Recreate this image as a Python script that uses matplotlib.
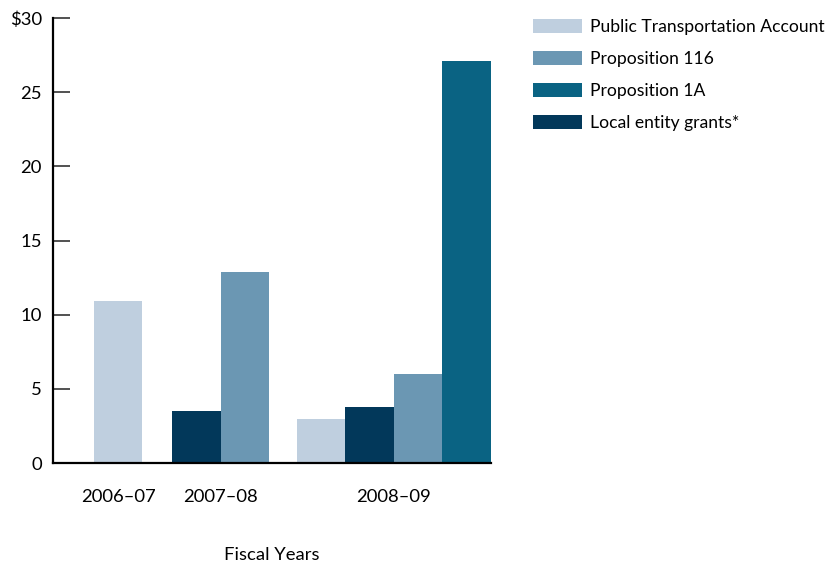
import numpy as np
import matplotlib.pyplot as plt
from matplotlib.patches import Patch

plt.rcParams['font.family'] = ['Lato', 'DejaVu Sans']

# funding by fiscal year (billions of dollars)
years = ['2006\u201307', '2007\u201308', '2008\u201309']
pta = [10.9, 0, 3.0]
local_grants = [0, 3.5, 3.8]
prop116 = [0, 12.9, 6.0]
prop1a = [0, 0, 27.1]

series = [
    ('Public Transportation Account', pta, '#bfcfdf'),
    ('Local entity grants*', local_grants, '#02385a'),
    ('Proposition 116', prop116, '#6b97b3'),
    ('Proposition 1A', prop1a, '#0a6383'),
]
legend_order = [0, 2, 3, 1]

# group centres along the x axis, in bar widths
centres = [1.345, 3.46, 7.03]

fig = plt.figure(figsize=(8.29, 5.63), dpi=100)
ax = fig.add_axes([53 / 829, 100 / 563, 438 / 829, 445 / 563])

for g, c in enumerate(centres):
    present = [s for s in series if s[1][g] > 0]
    left = c - len(present) / 2
    for i, (name, vals, col) in enumerate(present):
        ax.bar(left + i, vals[g], width=1.0, align='edge', color=col,
               linewidth=0, zorder=1)

fs = 13.3
ax.set_xlim(0, 9.03)
ax.set_ylim(0, 30)
ax.set_yticks(np.arange(0, 31, 5))
ax.set_yticklabels(['0', '5', '10', '15', '20', '25', '$30'])
ax.set_xticks(centres)
ax.set_xticklabels(years)
ax.tick_params(axis='y', direction='in', length=12, width=1.2,
               color='#333333', pad=8, labelsize=fs)
ax.tick_params(axis='x', length=0, pad=19, labelsize=fs)
for side in ('top', 'right'):
    ax.spines[side].set_visible(False)
for side in ('left', 'bottom'):
    ax.spines[side].set_linewidth(1.6)
    ax.spines[side].set_color('black')
ax.set_xlabel('Fiscal Years', fontsize=fs, labelpad=30)

handles = [Patch(facecolor=series[i][2], linewidth=0) for i in legend_order]
labels = [series[i][0] for i in legend_order]
fig.legend(handles, labels, loc='upper left',
           bbox_to_anchor=(533 / 829, 1 - 19 / 563), frameon=False,
           fontsize=12.6, handlelength=2.8, handleheight=0.86,
           labelspacing=0.9, handletextpad=0.44, borderpad=0,
           borderaxespad=0)

fig.savefig('out.png', dpi=100)
